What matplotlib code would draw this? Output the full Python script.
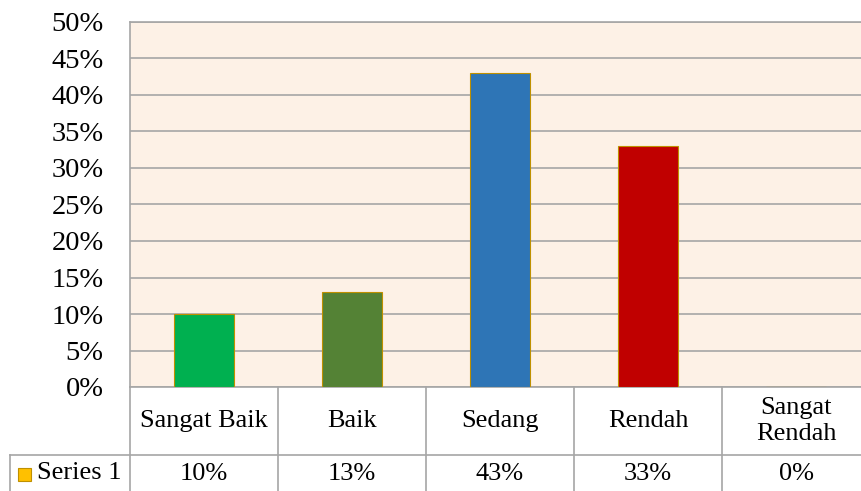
import matplotlib
matplotlib.use("Agg")
import matplotlib.pyplot as plt
from matplotlib.transforms import blended_transform_factory
from matplotlib.patches import Rectangle
from matplotlib.lines import Line2D

categories = ["Sangat Baik", "Baik", "Sedang", "Rendah", "Sangat\nRendah"]
values = [10, 13, 43, 33, 0]
value_labels = ["10%", "13%", "43%", "33%", "0%"]
series_name = "Series 1"
bar_colors = ["#00B050", "#548235", "#2E75B6", "#C00000", "#FFC000"]
yticks = list(range(0, 55, 5))

plt.rcParams['font.family'] = ['Liberation Serif', 'DejaVu Serif']

W, H = 861, 491
fig = plt.figure(figsize=(W / 100, H / 100), dpi=100)
fig.patch.set_facecolor("white")

left, right, top, bottom = 130, 870, 22, 387
ax = fig.add_axes([left / W, 1 - bottom / H, (right - left) / W, (bottom - top) / H])
ax.set_facecolor("#FDF1E6")
grid_c = "#A6A6A6"

x = list(range(len(categories)))
ax.bar(x, values, width=0.41, color=bar_colors, edgecolor="#BF9000", linewidth=0.8, zorder=3)
ax.set_xlim(-0.5, len(categories) - 0.5)
ax.set_ylim(0, 50)
ax.set_yticks(yticks)
ax.set_yticklabels([f"{t}%" for t in yticks], fontsize=20.5)
ax.tick_params(axis="y", length=0, pad=19)
ax.tick_params(axis="x", length=0, labelbottom=False)
for t in yticks:
    ax.axhline(t, color=grid_c, linewidth=1.2, zorder=1)
for s in ax.spines.values():
    s.set_color(grid_c)
    s.set_linewidth(1.2)

# Data table below
tr = blended_transform_factory(ax.transData, fig.transFigure)
fy = lambda py: 1 - py / H
fx = lambda px: px / W
row_mid = 455
fig.add_artist(Line2D([fx(10), 1.02], [fy(row_mid), fy(row_mid)], color=grid_c, linewidth=1.2))
for b in [i + 0.5 for i in range(len(categories) - 1)]:
    fig.add_artist(Line2D([b, b], [fy(bottom), fy(H + 5)], transform=tr, color=grid_c, linewidth=1.2))
fig.add_artist(Line2D([fx(left), fx(left)], [fy(bottom), fy(H + 5)], color=grid_c, linewidth=1.2))
fig.add_artist(Line2D([fx(10), fx(10)], [fy(row_mid), fy(H + 5)], color=grid_c, linewidth=1.2))

fs = 19
for i, c in enumerate(categories):
    fig.text(i, fy(421), c, transform=tr, ha="center", va="center", fontsize=fs, linespacing=1.25)
    fig.text(i, fy(474), value_labels[i], transform=tr, ha="center", va="center", fontsize=fs)

fig.add_artist(Rectangle((fx(18), fy(481)), 13 / W, 13 / H, facecolor="#FFC000",
                         edgecolor="#BF9000", linewidth=0.8, transform=fig.transFigure))
fig.text(fx(37), fy(473), series_name, ha="left", va="center", fontsize=fs)

fig.savefig("out.png", dpi=100, facecolor="white")
